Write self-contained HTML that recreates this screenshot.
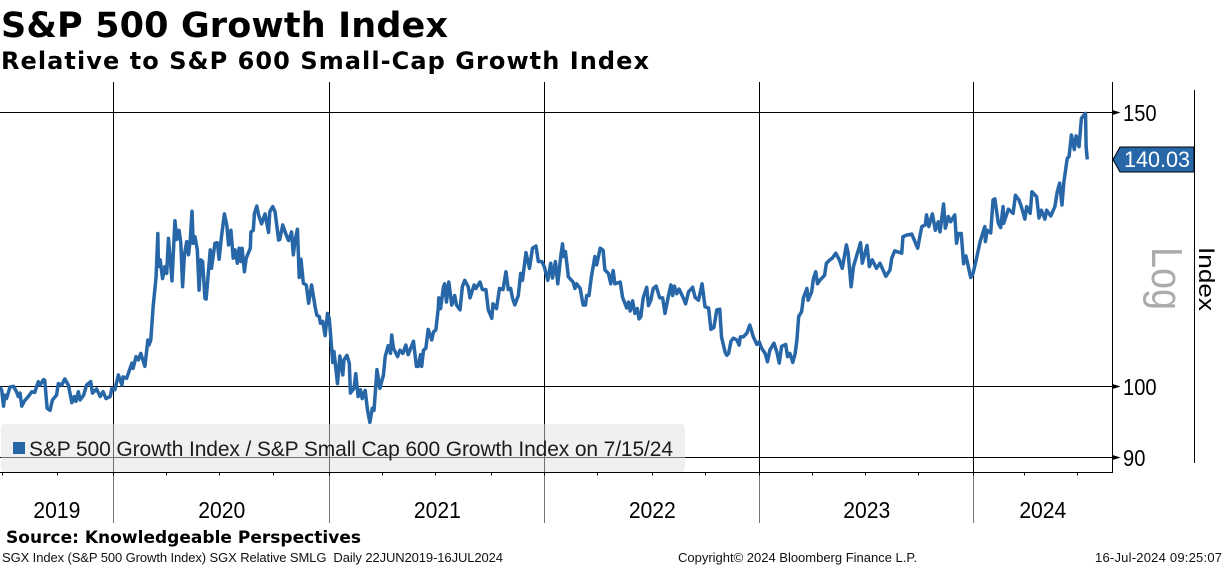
<!DOCTYPE html>
<html lang="en">
<head>
<meta charset="utf-8">
<title>S&amp;P 500 Growth Index relative to S&amp;P 600 Small-Cap Growth Index</title>
<style>
html,body{margin:0;padding:0;background:#fff;width:1224px;height:566px;overflow:hidden}
svg{display:block}
text{font-family:"DejaVu Sans","Liberation Sans",sans-serif;fill:#000}
text.lib{font-family:"Liberation Sans","DejaVu Sans",sans-serif}
</style>
</head>
<body>
<svg id="chart" xmlns="http://www.w3.org/2000/svg" width="1224" height="566" viewBox="0 0 1224 566">
  <rect x="0" y="0" width="1224" height="566" fill="#fff"/>
  <text x="1" y="37" font-size="35" font-weight="700" textLength="447" lengthAdjust="spacing">S&amp;P 500 Growth Index</text>
  <text x="1" y="69" font-size="24" font-weight="700" textLength="648" lengthAdjust="spacing">Relative to S&amp;P 600 Small-Cap Growth Index</text>

  <g id="grid"></g>
  <g id="series"></g>

  <rect x="1" y="424" width="684" height="48" rx="4" fill="rgb(226,226,226)" fill-opacity="0.5"/>
  <rect x="13" y="442" width="12" height="12" fill="#2767a8"/>
  <text class="lib" x="29" y="456" font-size="21" textLength="644" lengthAdjust="spacing" style="fill:#1c1c1c">S&amp;P 500 Growth Index / S&amp;P Small Cap 600 Growth Index on 7/15/24</text>

  <g id="axes"></g>

  <line x1="1194.5" y1="90" x2="1194.5" y2="463" stroke="#000" stroke-width="1"/>
  <polygon points="1113,159.5 1120,147 1194,147 1194,172 1120,172" fill="#2767a8" stroke="#000" stroke-width="1"/>
  <text class="lib" x="1124" y="167" font-size="22" style="fill:#fff" textLength="66" lengthAdjust="spacingAndGlyphs">140.03</text>
  <text class="lib" transform="translate(1152,247) rotate(90)" font-size="44" style="fill:#ababab" textLength="63" lengthAdjust="spacingAndGlyphs">Log</text>
  <text class="lib" transform="translate(1199,247) rotate(90)" font-size="22" textLength="64" lengthAdjust="spacingAndGlyphs">Index</text>

  <text x="6" y="543" font-size="17" font-weight="700" textLength="355" lengthAdjust="spacing">Source: Knowledgeable Perspectives</text>
  <text class="lib" x="2" y="562" font-size="13" xml:space="preserve" textLength="501" lengthAdjust="spacing" style="fill:#111;white-space:pre">SGX Index (S&amp;P 500 Growth Index) SGX Relative SMLG  Daily 22JUN2019-16JUL2024</text>
  <text class="lib" x="678" y="562" font-size="13" textLength="239" lengthAdjust="spacing" style="fill:#111">Copyright© 2024 Bloomberg Finance L.P.</text>
  <text class="lib" x="1095" y="562" font-size="13" textLength="127" lengthAdjust="spacing" style="fill:#111">16-Jul-2024 09:25:07</text>
</svg>
<script>
// Calendar days since 22-Jun-2019 for each sampled observation
const sessionDays = [
0,3,6,8,11,17,23,28,31,34,
37,41,48,54,59,65,68,74,76,80,
85,89,96,99,105,110,116,122,126,129,
133,136,142,147,154,157,164,170,175,180,
187,190,195,201,207,209,215,224,226,231,
235,239,246,251,253,256,260,265,268,269,
272,276,280,283,286,292,297,300,304,307,
310,313,317,320,323,326,328,331,335,338,
341,344,348,350,357,359,365,369,372,376,
381,385,388,392,396,399,403,406,409,411,
415,418,425,426,430,432,436,439,444,450,
456,458,463,467,473,475,480,486,490,495,
498,501,505,508,511,515,520,524,529,535,
538,542,544,548,552,556,559,565,567,573,
577,582,584,589,593,595,601,604,608,612,
615,620,624,628,632,635,640,645,651,654,
659,663,665,668,675,679,
684,689,693,702,707,710,714,716,719,723,
727,733,736,740,744,745,748,753,755,758,
762,767,772,775,781,785,789,795,798,805,
808,815,819,825,829,835,837,843,848,854,
859,863,867,870,874,880,884,887,893,899,
904,910,914,920,924,930,935,938,943,947,
952,955,957,960,965,973,976,979,985,990,
994,996,1000,1004,1010,1013,1019,1024,1027,1033,
1037,1041,1044,1053,1057,1064,1067,1070,1074,1078,
1082,1085,1088,1092,1098,1101,1105,1109,1114,1120,
1125,1129,1135,1139,1142,1145,1149,1153,1160,1164,
1169,1176,1180,1186,1192,1197,1203,1207,1212,1217,
1222,1225,1231,1234,1237,1241,1245,1251,1255,1257,
1262,1268,1273,1279,1285,1289,1293,1299,1303,1307,
1314,1319,1323,1327,1334,1337,1341,1346,1350,1353,
1356,1361,1364,1370,1372,1378,1381,1385,1388,1392,
1400,1403,1409,1413,1419,1425,1430,1437,1440,1445,
1449,1454,1461,1464,1472,1476,1481,1488,1494,1504,
1511,1514,1519,1531,1533,1539,1548,1558,1565,1571,
1573,1577,1583,1588,1593,1596,1602,1605,1610,1614,
1621,1624,1627,1632,1636,1640,1644,1648,1652,1658,
1664,1672,1673,1676,1682,1686,1689,1695,1699,1703,
1704,1712,1720,1724,1730,1734,1740,1743,1749,1752,
1760,1764,1768,1774,1777,1784,1791,1795,1799,1803,
1806,1812,1815,1819,1824,1827,1832,1836,1840,1843,
1844,1846
];
// Relative index level for each observation
const relativeIndex = [
100.0,99.5,97.2,98.8,98.3,100.0,100.1,99.3,98.6,99.1,
97.2,97.9,98.6,99.3,99.2,100.8,100.3,101.1,101.0,96.9,
96.6,98.1,98.8,100.5,100.3,101.2,100.3,97.7,98.6,97.9,
99.3,98.1,98.8,100.3,100.8,99.1,99.7,98.6,99.3,98.3,
98.6,99.8,99.6,101.8,100.3,101.5,101.3,103.6,102.8,104.6,
104.1,105.1,103.1,107.2,106.4,107.2,112.6,117.7,125.5,119.5,
120.7,117.4,119.5,118.3,124.6,117.0,127.9,124.4,126.1,123.7,
116.0,121.6,124.0,121.6,124.3,129.7,123.7,124.9,122.5,115.4,
120.7,120.4,114.0,113.9,122.5,119.2,123.7,123.8,120.8,124.9,
129.2,127.1,123.4,126.1,121.0,122.5,120.1,122.8,120.4,122.8,
118.6,121.0,122.8,125.8,126.1,129.3,130.7,129.0,127.3,129.2,
125.7,129.6,130.6,129.6,124.3,124.4,127.1,125.2,124.2,125.8,
121.6,124.3,126.3,117.6,120.8,116.6,116.3,113.2,116.3,112.6,
111.2,111.0,109.9,110.2,107.9,111.5,110.7,103.7,105.4,100.5,
104.7,101.8,104.1,104.8,103.6,99.1,99.8,102.0,98.6,99.6,
98.3,99.5,96.6,94.9,96.9,96.6,102.6,99.8,101.8,104.6,
106.3,105.1,108.0,105.9,104.6,105.6,
105.1,106.4,104.9,107.0,103.1,103.1,104.9,103.1,105.6,105.9,
108.9,107.2,108.5,108.8,112.3,114.1,112.3,116.0,116.5,113.4,
116.8,112.9,114.5,112.9,112.1,116.0,117.1,116.0,114.1,116.3,
115.7,116.8,115.5,115.5,112.1,110.7,113.1,112.3,115.7,115.5,
118.6,115.5,115.7,114.1,112.9,114.5,118.3,117.1,122.0,119.2,
122.8,123.2,120.4,120.4,119.5,117.1,120.1,117.5,120.4,116.5,
121.3,123.6,121.3,122.2,117.7,116.8,115.7,116.5,115.7,112.9,
112.9,114.5,114.5,117.7,121.3,119.8,122.8,122.4,118.9,118.3,
116.5,118.8,116.5,116.8,114.2,112.4,113.4,111.9,113.6,111.5,
112.3,110.6,111.0,114.1,115.9,112.8,113.7,115.7,116.1,114.1,
114.1,111.5,114.5,116.3,114.5,116.1,114.8,115.6,114.1,113.1,
115.1,115.9,114.2,113.7,116.5,112.6,112.4,108.9,109.2,112.1,
112.2,107.7,105.3,104.8,105.1,107.0,107.5,107.2,106.4,107.7,
107.7,108.3,109.6,107.7,106.5,106.9,105.9,105.1,103.8,105.6,
106.7,105.3,103.6,106.2,106.5,104.6,105.1,103.7,105.1,107.2,
111.0,111.8,114.1,115.7,113.7,115.1,117.4,118.6,116.5,117.1,
118.0,120.1,120.7,121.0,121.9,120.7,119.2,123.4,121.9,116.0,
119.5,121.3,123.8,120.1,123.3,119.5,120.7,119.2,120.1,117.8,
118.9,121.0,122.3,121.9,124.9,125.2,125.4,122.8,126.8,127.1,
129.0,126.8,129.2,126.1,127.7,125.8,131.1,126.5,128.7,127.7,
129.0,123.7,125.5,125.5,120.0,121.4,119.5,117.6,118.3,121.0,
124.0,126.8,124.0,126.1,125.6,131.9,132.1,127.4,126.6,130.6,
127.4,130.1,129.3,132.8,131.9,130.6,128.2,130.6,129.3,133.5,
132.5,128.4,129.9,128.2,129.9,128.8,130.6,133.5,135.2,130.9,
135.2,140.3,140.6,145.2,142.1,145.0,142.7,148.8,149.5,149.9,
142.7,140.03
];
const yTickValues = [150, 100, 90];
const yearLabels = ["2019", "2020", "2021", "2022", "2023", "2024"];
const yearStartDays = [193, 560, 925, 1290, 1653];
const quarterTickDays = [5, 98, 193, 282, 373, 465, 560, 649, 739, 834, 925, 1015, 1107, 1197, 1290, 1379, 1469, 1560, 1653, 1740, 1830];
const axisEndDay = 1888;

const NS = 'http://www.w3.org/2000/svg';
const xScale = d => 0.589 * d;
const yScale = v => 387 - 675.8 * Math.log(v / 100);
const snapX = x => Math.floor(x) + 0.5;
const snapY = y => Math.round(y) - 0.5;
const plotTop = 82, plotBottom = 472.5, stubBottom = 523;
const plotRight = snapX(xScale(axisEndDay));

function make(tag, attrs, parent) {
  const el = document.createElementNS(NS, tag);
  for (const k in attrs) el.setAttribute(k, attrs[k]);
  parent.appendChild(el);
  return el;
}
const grid = document.getElementById('grid');
const axes = document.getElementById('axes');
const seriesLayer = document.getElementById('series');

yTickValues.forEach(v => {
  const y = snapY(yScale(v));
  const gl = make('line', {x1: 0, x2: plotRight, y1: y, y2: y, stroke: '#000', 'stroke-width': 1}, grid);
  
  
  const arrow = make('polygon', {points: `${plotRight},${y - 2.5} ${plotRight + 8},${y} ${plotRight},${y + 2.5}`, fill: '#000'}, axes);
  
  
  const label = make('text', {class: 'lib', x: plotRight + 10.5, y: y + 8.5, 'font-size': 23, textLength: String(v).length * 11.2, lengthAdjust: 'spacingAndGlyphs'}, axes);
  label.textContent = String(v);
  
  
});

yearStartDays.forEach(d => {
  const x = snapX(xScale(d));
  const vl = make('line', {x1: x, x2: x, y1: plotTop, y2: plotBottom, stroke: '#000', 'stroke-width': 1}, grid);
  
  
  const stub = make('line', {x1: x, x2: x, y1: plotBottom, y2: stubBottom, stroke: '#777', 'stroke-width': 1}, axes);
  
  
});

const path = make('path', {
  d: sessionDays.map((d, i) => (i ? 'L' : 'M') + xScale(d).toFixed(2) + ' ' + yScale(relativeIndex[i]).toFixed(2)).join(''),
  fill: 'none', stroke: '#2767a8', 'stroke-width': 3.5, 'stroke-linejoin': 'round', 'stroke-linecap': 'butt'
}, seriesLayer);



const xAxis = make('line', {x1: 0, x2: plotRight + 0.5, y1: plotBottom, y2: plotBottom, stroke: '#000', 'stroke-width': 1}, axes);


const yAxis = make('line', {x1: plotRight, x2: plotRight, y1: plotTop, y2: plotBottom, stroke: '#000', 'stroke-width': 1}, axes);



quarterTickDays.forEach(d => {
  const x = snapX(xScale(d));
  const t = make('line', {x1: x, x2: x, y1: plotBottom, y2: plotBottom + 3, stroke: '#000', 'stroke-width': 1}, axes);
  
  
});

yearLabels.forEach((yr, i) => {
  const left = i === 0 ? 0 : xScale(yearStartDays[i - 1]);
  const right = i < yearStartDays.length ? xScale(yearStartDays[i]) : xScale(axisEndDay);
  const cx = (left + right) / 2;
  const lab = make('text', {class: 'lib', x: cx - 23.5, y: 518, 'font-size': 23, textLength: 47, lengthAdjust: 'spacingAndGlyphs'}, axes);
  lab.textContent = yr;
  
  
});
</script>
</body>
</html>
